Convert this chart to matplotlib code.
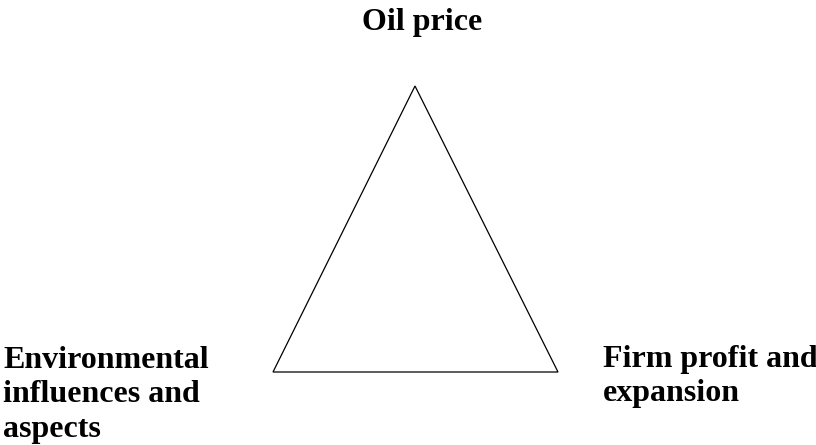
import matplotlib.pyplot as plt

# triangle corners (pixel coords of the diagram, y downwards)
tri_x = [415, 558, 273]
tri_y = [86, 372, 372]

labels = ["Oil price", "Firm profit and\nexpansion", "Environmental\ninfluences and\naspects"]
label_x = [422, 603, 3]
label_y = [30, 401, 437]   # baseline of the last line
label_ha = ["center", "left", "left"]

fig = plt.figure(figsize=(8.16, 4.45), dpi=100)
ax = fig.add_axes([0, 0, 1, 1])
ax.set_xlim(0, 816)
ax.set_ylim(445, 0)
ax.axis("off")

ax.fill(tri_x, tri_y, facecolor="none", edgecolor="black", linewidth=0.9)

for t, x, y, ha in zip(labels, label_x, label_y, label_ha):
    ax.text(x, y, t, ha=ha, va="baseline", multialignment="left",
            fontsize=23, fontweight="bold", family="Liberation Serif",
            linespacing=1.25)

fig.savefig("out.png", dpi=100)
